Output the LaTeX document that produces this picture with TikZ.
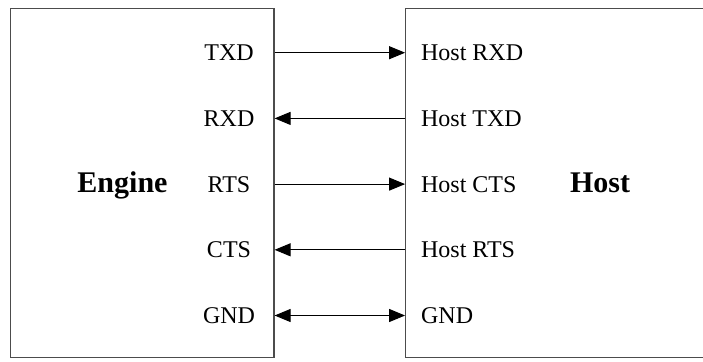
\documentclass[tikz,border=0pt]{standalone}
\usepackage{fontspec}
\setmainfont{Liberation Serif}
\usetikzlibrary{arrows.meta}
\tikzset{every picture/.style={x=0.5pt,y=-0.5pt},
  box/.style={draw=black!70, line width=0.6pt, inner sep=0pt},
  sig/.style={font=\fontsize{12}{14}\selectfont, inner sep=0pt, text height=8pt, text depth=0pt},
  side/.style={font=\fontsize{15}{18}\selectfont\bfseries, inner sep=0pt, anchor=base},
  wire/.style={line width=0.5pt, -{Triangle[length=8pt,width=6.5pt]}}}

\begin{document}
\begin{tikzpicture}
  \useasboundingbox (0,0) rectangle (703,361);
  \clip (0,0) rectangle (703,361);

  \node[box, minimum width=131.75pt, minimum height=174.6pt] (engine) at (142.25,183.1){};
  \node[box, minimum width=177.15pt, minimum height=174.6pt] (host) at (582.85,183.1){};

  \node[side] (englbl) at (122.5,192){Engine};
  \node[side] (hostlbl) at (600,192){Host};

  \node[sig] (txd) at (229,52.7){TXD};
  \node[sig] (rxd) at (229,118.4){RXD};
  \node[sig] (rts) at (229,184.1){RTS};
  \node[sig] (cts) at (229,249.8){CTS};
  \node[sig] (gnd) at (229,315.5){GND};

  \node[sig, anchor=west] (hrxd) at (420.7,52.7){Host RXD};
  \node[sig, anchor=west] (htxd) at (420.7,118.4){Host TXD};
  \node[sig, anchor=west] (hcts) at (420.7,184.1){Host CTS};
  \node[sig, anchor=west] (hrts) at (420.7,249.8){Host RTS};
  \node[sig, anchor=west] (hgnd) at (420.7,315.5){GND};

  \draw[wire] (engine.east |- txd) -- (host.west |- hrxd);
  \draw[wire] (host.west |- htxd) -- (engine.east |- rxd);
  \draw[wire] (engine.east |- rts) -- (host.west |- hcts);
  \draw[wire] (host.west |- hrts) -- (engine.east |- cts);
  \draw[wire, {Triangle[length=8pt,width=6.5pt]}-{Triangle[length=8pt,width=6.5pt]}] (engine.east |- gnd) -- (host.west |- hgnd);
\end{tikzpicture}
\end{document}
